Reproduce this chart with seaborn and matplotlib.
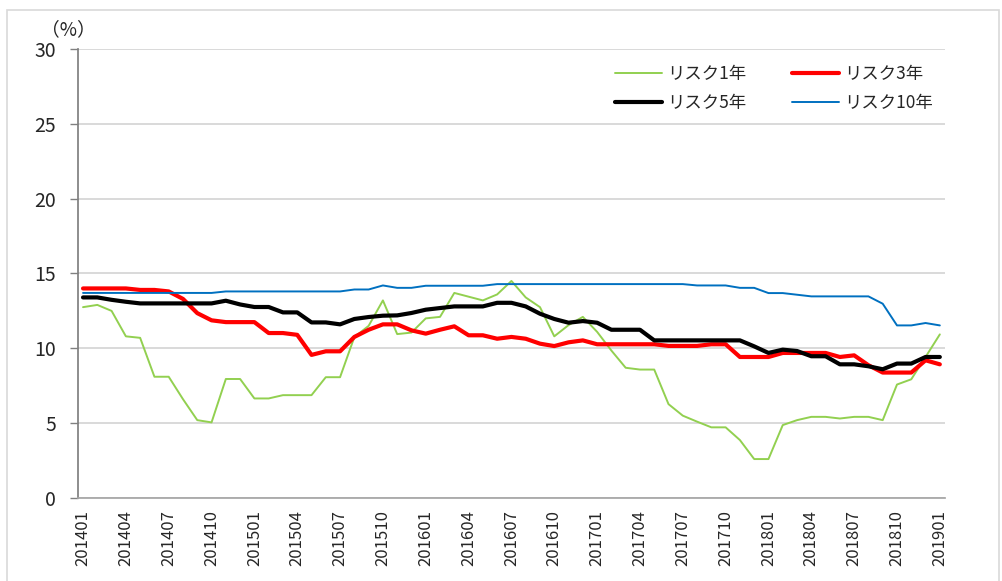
import pandas as pd
import seaborn as sns
import matplotlib.pyplot as plt
from matplotlib.patches import Rectangle

# monthly categories 201401 .. 201901
months = [p.strftime("%Y%m") for p in pd.period_range("2014-01", "2019-01", freq="M")]

risk1 = [12.75, 12.9, 12.5, 10.8, 10.7, 8.1, 8.1, 6.6, 5.2, 5.05,
         7.95, 7.95, 6.65, 6.65, 6.87, 6.87, 6.87, 8.07, 8.07, 10.75,
         11.5, 13.2, 10.95, 11.05, 12.0, 12.1, 13.7, 13.45, 13.2, 13.6,
         14.5, 13.4, 12.75, 10.8, 11.55, 12.1, 11.1, 9.85, 8.7, 8.58,
         8.58, 6.27, 5.5, 5.1, 4.72, 4.72, 3.87, 2.6, 2.6, 4.87,
         5.2, 5.42, 5.42, 5.31, 5.42, 5.42, 5.2, 7.58, 7.93, 9.42,
         10.93]
risk3 = [14.0, 14.0, 14.0, 14.0, 13.9, 13.9, 13.8, 13.3, 12.35, 11.87,
         11.75, 11.75, 11.75, 11.02, 11.02, 10.9, 9.56, 9.8, 9.8, 10.76,
         11.24, 11.6, 11.6, 11.2, 10.98, 11.24, 11.47, 10.87, 10.87, 10.64,
         10.76, 10.64, 10.31, 10.15, 10.4, 10.53, 10.27, 10.27, 10.27, 10.27,
         10.27, 10.16, 10.16, 10.16, 10.27, 10.27, 9.42, 9.42, 9.42, 9.69,
         9.69, 9.69, 9.69, 9.42, 9.53, 8.87, 8.38, 8.38, 8.38, 9.2,
         8.93]
risk5 = [13.4, 13.4, 13.24, 13.11, 13.0, 13.0, 13.0, 13.0, 13.0, 13.0,
         13.18, 12.93, 12.76, 12.76, 12.4, 12.4, 11.73, 11.73, 11.6, 11.96,
         12.09, 12.18, 12.2, 12.36, 12.58, 12.69, 12.8, 12.8, 12.8, 13.04,
         13.04, 12.8, 12.31, 11.96, 11.71, 11.82, 11.71, 11.24, 11.24, 11.24,
         10.53, 10.53, 10.53, 10.53, 10.53, 10.53, 10.53, 10.13, 9.69, 9.91,
         9.82, 9.47, 9.47, 8.93, 8.93, 8.8, 8.6, 8.98, 8.98, 9.42,
         9.42]
risk10 = [13.7, 13.7, 13.7, 13.7, 13.7, 13.7, 13.7, 13.7, 13.7, 13.7,
          13.8, 13.8, 13.8, 13.8, 13.8, 13.8, 13.8, 13.8, 13.8, 13.93,
          13.93, 14.2, 14.04, 14.04, 14.18, 14.18, 14.18, 14.18, 14.18, 14.29,
          14.29, 14.29, 14.29, 14.29, 14.29, 14.29, 14.29, 14.29, 14.29, 14.29,
          14.29, 14.29, 14.29, 14.2, 14.2, 14.2, 14.04, 14.04, 13.69, 13.69,
          13.58, 13.47, 13.47, 13.47, 13.47, 13.47, 12.98, 11.53, 11.53, 11.69,
          11.53]

series = [("リスク1年", risk1, "#92D050", 1.4),
          ("リスク3年", risk3, "#FF0000", 3.0),
          ("リスク5年", risk5, "#000000", 3.0),
          ("リスク10年", risk10, "#0070C0", 1.4)]

sns.set_theme(style="white")
plt.rcParams["font.family"] = ["Noto Sans CJK JP", "DejaVu Sans"]

fig = plt.figure(figsize=(10.03, 5.81), dpi=100)
ax = fig.add_axes([0.0778, 0.1429, 0.8642, 0.7728])

x = list(range(len(months)))
handles = {}
for name, vals, color, lw in series:
    sns.lineplot(x=x, y=vals, ax=ax, color=color, linewidth=lw, label=name)
for line in ax.get_lines():
    handles[line.get_label()] = line

ax.set_xlim(-0.35, len(months) - 1 + 0.35)
ax.set_ylim(0, 30)
ax.set_yticks(range(0, 31, 5))
ax.set_xticks(x[::3])
ax.set_xticklabels(months[::3], rotation=90, fontsize=12)
ax.tick_params(axis="y", labelsize=14, length=6, width=1, color="#808080",
               direction="out", left=True, pad=10)
ax.tick_params(axis="x", length=0, pad=9)
ax.grid(axis="y", color="#d9d9d9", linewidth=1.4)
ax.set_axisbelow(True)
for side in ["top", "right"]:
    ax.spines[side].set_visible(False)
ax.spines["left"].set_color("#808080")
ax.spines["bottom"].set_color("#a6a6a6")
ax.set_xlabel("")
ax.set_ylabel("")

# unit label sits just above the "30" tick label
fig.text(68 / 1003, 1 - 30 / 581, "（%）", fontsize=13.5, ha="center", va="center")

order = ["リスク1年", "リスク5年", "リスク3年", "リスク10年"]
ax.legend([handles[k] for k in order], order, ncol=2, frameon=False,
          fontsize=12.5, loc="upper left", bbox_to_anchor=(0.602, 1.0),
          handlelength=2.7, handletextpad=0.3, columnspacing=2.6,
          labelspacing=0.68)

fig.patches.append(Rectangle((7 / 1003, -0.05), 992 / 1003, 1.05 - 10 / 581,
                             transform=fig.transFigure, fill=False,
                             edgecolor="#d9d9d9", linewidth=1.2))

plt.savefig("out.png", dpi=100)
